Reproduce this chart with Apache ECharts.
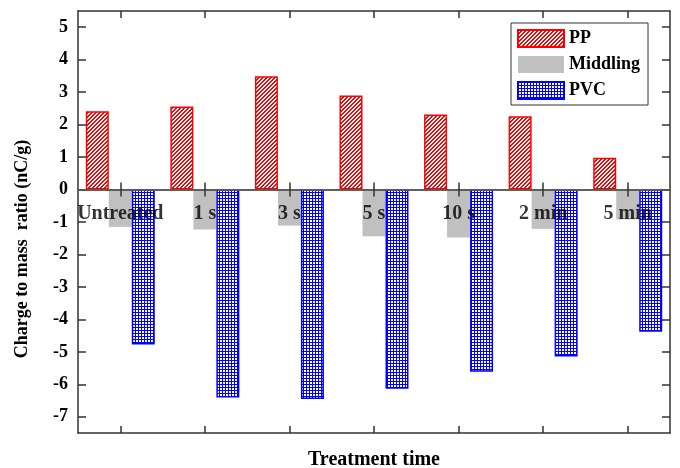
<!DOCTYPE html>
<html>
<head>
<meta charset="utf-8">
<script src="https://cdn.jsdelivr.net/npm/echarts@6/dist/echarts.min.js"></script>
<style>
  html, body { margin: 0; padding: 0; background: #fff; }
  #main { width: 680px; height: 468px; }
</style>
</head>
<body>
<div id="main"></div>
<script>
const categories = ['Untreated', '1 s', '3 s', '5 s', '10 s', '2 min', '5 min'];
const ppValues = [2.41, 2.56, 3.49, 2.90, 2.31, 2.26, 0.98];
const middlingValues = [-1.15, -1.23, -1.11, -1.44, -1.48, -1.21, -0.92];
const pvcValues = [-4.77, -6.41, -6.45, -6.14, -5.61, -5.14, -4.38];
const yTicks = [-7, -6, -5, -4, -3, -2, -1, 0, 1, 2, 3, 4, 5];

const FONT = '"Liberation Serif", "Times New Roman", serif';

// red diagonal hatch for PP (pixel stripes, no anti-aliasing)
function makeHatch() {
  const c = document.createElement('canvas');
  c.width = 4; c.height = 4;
  const ctx = c.getContext('2d');
  ctx.fillStyle = '#fff';
  ctx.fillRect(0, 0, 4, 4);
  ctx.fillStyle = '#ff0000';
  for (let i = 0; i < 4; i++) {
    ctx.fillRect((3 - i + 4) % 4, i, 1, 1);
    ctx.fillRect((4 - i + 4) % 4, i, 1, 1);
  }
  return c;
}

// blue cross hatch for PVC
function makeCross() {
  const c = document.createElement('canvas');
  c.width = 3; c.height = 3;
  const ctx = c.getContext('2d');
  ctx.fillStyle = '#0000ff';
  ctx.fillRect(0, 0, 3, 3);
  ctx.fillStyle = '#fff';
  ctx.fillRect(1, 1, 2, 2);
  return c;
}

const frameLine = { show: true, onZero: false, lineStyle: { color: '#333', width: 1.5 } };
const zeroLine = { show: true, onZero: true, onZeroAxisIndex: 0, lineStyle: { color: '#555', width: 1.5 } };

const myChart = echarts.init(document.getElementById('main'));
const option = {
  animation: false,
  grid: { left: 78, right: 10, top: 11, bottom: 35, containLabel: false, outerBoundsMode: 'none' },
  legend: {
    orient: 'vertical',
    left: 511,
    top: 23,
    padding: [6, 8, 5, 6],
    itemWidth: 46,
    itemHeight: 17,
    itemGap: 7.5,
    borderColor: '#333',
    borderWidth: 1,
    backgroundColor: '#fff',
    icon: 'rect',
    textStyle: { fontFamily: FONT, fontWeight: 'bold', fontSize: 18, color: '#000' },
    data: ['PP', 'Middling', 'PVC']
  },
  xAxis: [
    {
      // bottom frame
      type: 'category', data: categories, position: 'bottom',
      axisLine: frameLine,
      axisTick: { show: true, inside: true, length: 7, alignWithLabel: true, lineStyle: { color: '#333', width: 1.5 } },
      axisLabel: { show: false },
      name: 'Treatment time', nameLocation: 'middle', nameGap: 17,
      nameTextStyle: { fontFamily: FONT, fontWeight: 'bold', fontSize: 20, color: '#000' }
    },
    {
      // top frame
      type: 'category', data: categories, position: 'top',
      axisLine: frameLine,
      axisTick: { show: true, inside: true, length: 7, alignWithLabel: true, lineStyle: { color: '#333', width: 1.5 } },
      axisLabel: { show: false }
    },
    {
      // zero line, ticks downward
      type: 'category', data: categories, position: 'bottom', z: 10,
      axisLine: zeroLine,
      axisTick: { show: true, inside: false, length: 7, alignWithLabel: true, lineStyle: { color: '#333', width: 1.5 } },
      axisLabel: { show: false }
    },
    {
      // zero line, ticks upward
      type: 'category', data: categories, position: 'bottom', z: 10,
      axisLine: zeroLine,
      axisTick: { show: true, inside: true, length: 7, alignWithLabel: true, lineStyle: { color: '#333', width: 1.5 } },
      axisLabel: { show: false }
    }
  ],
  yAxis: [
    {
      type: 'value', position: 'left', min: -7.5, max: 5.5,
      axisLine: frameLine,
      axisTick: { show: true, inside: true, length: 8, customValues: yTicks, lineStyle: { color: '#333', width: 1.5 } },
      axisLabel: { show: true, margin: 10, customValues: yTicks, fontFamily: FONT, fontWeight: 'bold', fontSize: 18, color: '#000' },
      splitLine: { show: false }
    },
    {
      type: 'value', position: 'right', min: -7.5, max: 5.5,
      axisLine: frameLine,
      axisTick: { show: true, inside: true, length: 8, customValues: yTicks, lineStyle: { color: '#333', width: 1.5 } },
      axisLabel: { show: false },
      splitLine: { show: false }
    }
  ],
  graphic: [
    {
      type: 'text', x: 22, y: 249, rotation: Math.PI / 2,
      style: {
        text: 'Charge to mass  ratio (nC/g)',
        font: 'bold 18px ' + FONT,
        fill: '#000', align: 'center', verticalAlign: 'middle'
      }
    }
  ],
  series: [
    {
      name: 'PP', type: 'bar', data: ppValues, barWidth: 23, barGap: '0%',
      itemStyle: { color: { image: makeHatch(), repeat: 'repeat' }, borderColor: '#ff0000', borderWidth: 1.5 }
    },
    {
      name: 'Middling', type: 'bar', data: middlingValues, barWidth: 23, barGap: '0%',
      itemStyle: { color: '#c0c0c0', borderWidth: 0 }
    },
    {
      name: 'PVC', type: 'bar', data: pvcValues, barWidth: 23, barGap: '0%',
      itemStyle: { color: { image: makeCross(), repeat: 'repeat' }, borderColor: '#0000ff', borderWidth: 1.5 }
    },
    {
      // category labels sitting under the zero line, above the bars
      type: 'scatter', silent: true, z: 20,
      symbolSize: 0,
      data: categories.map(c => [c, 0]),
      label: {
        show: true, position: 'bottom', distance: 14,
        formatter: p => p.value[0],
        fontFamily: FONT, fontWeight: 'bold', fontSize: 20, color: '#000'
      }
    }
  ]
};
myChart.setOption(option);
</script>
</body>
</html>
